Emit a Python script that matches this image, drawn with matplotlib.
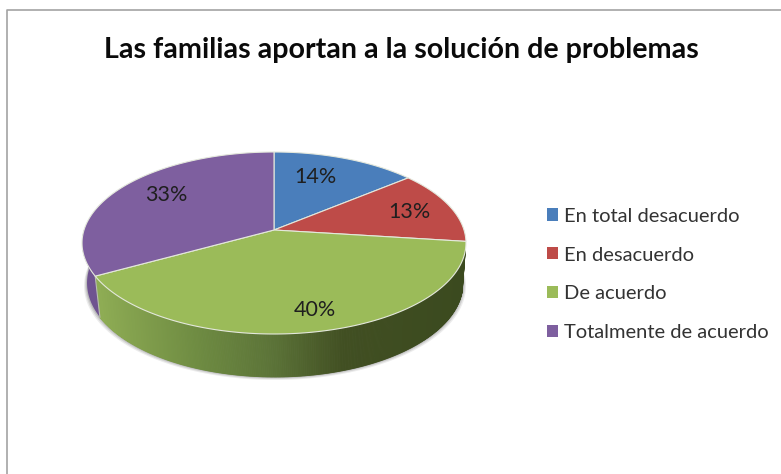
import numpy as np
import matplotlib
matplotlib.use("Agg")
import matplotlib.pyplot as plt
from matplotlib.colors import LinearSegmentedColormap
from matplotlib.patches import Patch

plt.rcParams["font.family"] = ["Lato", "DejaVu Sans"]

title = "Las familias aportan a la solución de problemas"
categories = ["En total desacuerdo", "En desacuerdo", "De acuerdo", "Totalmente de acuerdo"]
values = [14, 13, 40, 33]
colors = ["#4A7EBB", "#BE4B48", "#9BBB59", "#7E5F9F"]
side_purple = "#6F5390"
text_color = "#1F1F1F"

# label centres, pixels
label_x = [315, 409, 315, 166]
label_y = [177, 212, 310, 195]

fig = plt.figure(figsize=(7.81, 4.74), dpi=100)
ax = fig.add_axes([0, 0, 1, 1])
ax.set_xlim(0, 781)
ax.set_ylim(474, 0)
ax.axis("off")


# circle seen in perspective, so the centre sits above the middle of the ellipse
def top_rim(theta):
    u = np.sin(theta)
    v = np.cos(theta)
    w = 1 + v / 7
    return 274 + 190 * u / w, 243 - (91 * v + 13) / w


def bottom_rim(theta):
    x, y = top_rim(theta)
    return 275 + (x - 274) * 188 / 192, 283 + (y - 243) * 94 / 91


def arc(func, a, b):
    n = max(int(abs(b - a) * 90), 2)
    return func(np.linspace(a, b, n))


# wedge limits in radians, clockwise from 12 o'clock
edges = np.cumsum([0] + values) / sum(values) * 2 * np.pi

# soft shadow under the body
full = np.linspace(0, 2 * np.pi, 300)
sx, sy = bottom_rim(full)
for off, alpha in [(3.0, 0.15), (2.0, 0.22), (1.0, 0.3)]:
    ax.fill(275 + (sx - 275) * (188 + off) / 188, sy + off, color="#808080", alpha=alpha, lw=0, zorder=1)

# body of the pie, one thin strip at a time for the shading
shade = LinearSegmentedColormap.from_list(
    "side", [(0, "#8EAC54"), (0.28, "#6D8A41"), (0.47, "#5C7438"), (0.67, "#414F22"), (1, "#3B4A1F")]
)
strips = np.linspace(edges[2] + 0.1, edges[3], 400)
for a, b in zip(strips[:-1], strips[1:]):
    x1, y1 = top_rim(np.array([a, b]))
    x2, y2 = bottom_rim(np.array([b, a]))
    t = (x1.mean() - 97) / (465 - 97)
    ax.fill(np.r_[x1, x2], np.r_[y1, y2], color=shade(t), lw=0.6, zorder=2)

# purple piece on the left
x1, y1 = arc(top_rim, edges[3], edges[3] + 0.5)
x2, y2 = arc(bottom_rim, edges[3] + 0.5, edges[3])
ax.fill(np.r_[x1, x2], np.r_[y1, y2], color=side_purple, lw=0, zorder=2)
x1, y1 = top_rim(np.array([edges[3], edges[3]]))
x2, y2 = bottom_rim(np.array([edges[3], edges[3]]))
ax.plot([x1[0], x2[0]], [y1[0], y2[0]], color="#B9BDB0", lw=0.8, zorder=3)

# top face
apex_x, apex_y = 274, 230
for i, c in enumerate(colors):
    x, y = arc(top_rim, edges[i], edges[i + 1])
    ax.fill(np.r_[apex_x, x], np.r_[apex_y, y], facecolor=c, edgecolor="#E4E8DC", lw=0.8, zorder=4, joinstyle="round")

for x, y, v in zip(label_x, label_y, values):
    ax.text(x, y, f"{v}%", ha="center", va="center", fontsize=15.5, color=text_color, zorder=5)

ax.text(401, 50, title, ha="center", va="center", fontsize=20.6, fontweight="bold", color="#0A0A0A")

# chart frame, only left and top show
ax.plot([7.3, 7.3, 781], [474, 9.5, 9.5], color="#A3A3A3", lw=1.2, zorder=0)

handles = [Patch(facecolor=c, edgecolor="none") for c in colors]
ax.legend(
    handles, categories, loc="center left", bbox_to_anchor=(547 / 781, 1 - 274.5 / 474),
    frameon=False, fontsize=14.5, labelcolor="#333333", handlelength=0.55, handleheight=0.55,
    handletextpad=0.3, labelspacing=1.09, borderpad=0, borderaxespad=0,
)

fig.savefig("out.png", dpi=100, facecolor="white")
